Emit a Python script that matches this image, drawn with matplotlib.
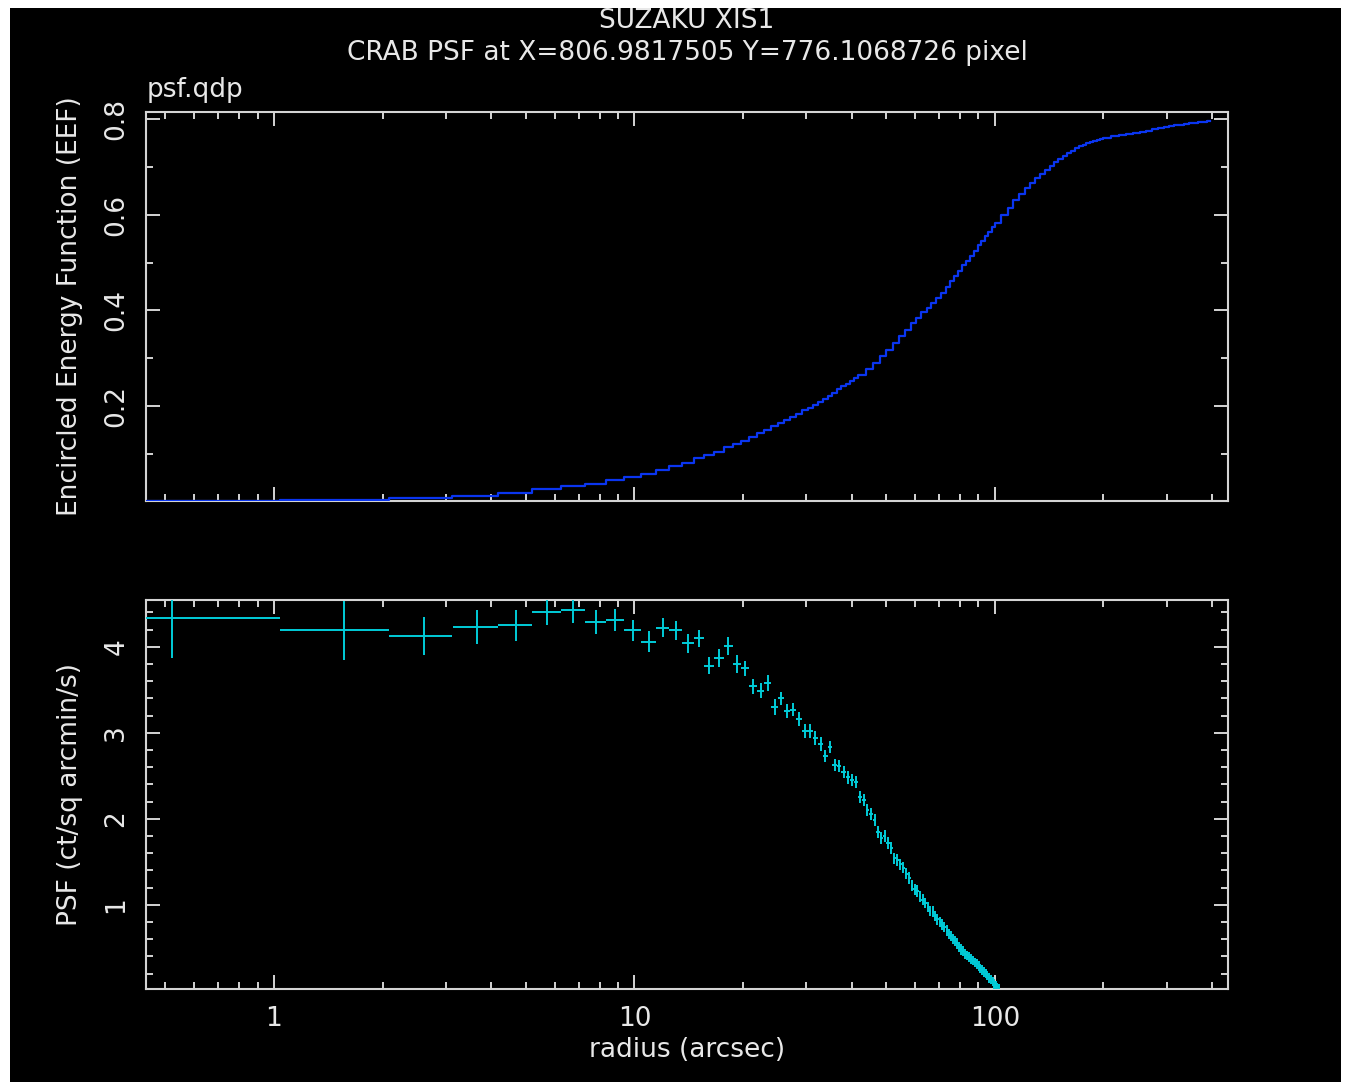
import matplotlib
matplotlib.use("Agg")
import matplotlib.pyplot as plt
import matplotlib.ticker as mticker
from matplotlib.patches import Rectangle
import numpy as np

# ---- data ----
# PSF: bin centres (arcsec), value, error, half bin width
psf_r = [0.52, 1.56, 2.60, 3.65, 4.69, 5.73, 6.77, 7.81, 8.85, 9.90,
         10.94, 11.98, 13.02, 14.06, 15.10, 16.14, 17.19, 18.23, 19.27, 20.31,
         21.35, 22.39, 23.44, 24.48, 25.52, 26.56, 27.60, 28.64, 29.69, 30.73,
         31.77, 32.81, 33.85, 34.89, 35.94, 36.98, 38.02, 39.06, 40.10, 41.14,
         42.19, 43.23, 44.27, 45.31, 46.35, 47.39, 48.44, 49.48, 50.52, 51.56,
         52.60, 53.64, 54.69, 55.73, 56.77, 57.81, 58.85, 59.89, 60.94, 61.98,
         63.02, 64.06, 65.10, 66.14, 67.19, 68.23, 69.27, 70.31, 71.35, 72.39,
         73.44, 74.48, 75.52, 76.56, 77.60, 78.64, 79.69, 80.73, 81.77, 82.81,
         83.85, 84.89, 85.94, 86.98, 88.02, 89.06, 90.10, 91.14, 92.19, 93.23,
         94.27, 95.31, 96.35, 97.39, 98.44, 99.48, 100.52, 101.56, 102.60]
psf_val = [4.33, 4.19, 4.13, 4.23, 4.25, 4.41, 4.43, 4.29, 4.31, 4.19,
           4.06, 4.22, 4.19, 4.04, 4.10, 3.78, 3.87, 4.01, 3.80, 3.75,
           3.54, 3.49, 3.58, 3.30, 3.40, 3.25, 3.27, 3.16, 3.02, 3.02,
           2.94, 2.87, 2.73, 2.84, 2.62, 2.61, 2.54, 2.48, 2.45, 2.43,
           2.25, 2.22, 2.10, 2.05, 1.98, 1.85, 1.78, 1.80, 1.72, 1.66,
           1.54, 1.52, 1.47, 1.43, 1.36, 1.31, 1.22, 1.18, 1.16, 1.10,
           1.06, 1.02, 0.97, 0.93, 0.92, 0.87, 0.83, 0.80, 0.77, 0.74,
           0.70, 0.66, 0.64, 0.60, 0.58, 0.55, 0.51, 0.48, 0.46, 0.43,
           0.41, 0.39, 0.37, 0.35, 0.33, 0.31, 0.29, 0.26, 0.24, 0.22,
           0.20, 0.18, 0.15, 0.13, 0.11, 0.08, 0.06, 0.04, 0.02]
psf_err = [0.46, 0.34, 0.22, 0.20, 0.18, 0.16, 0.15, 0.14, 0.13, 0.12,
           0.12, 0.11, 0.11, 0.11, 0.10, 0.10, 0.10, 0.10, 0.10, 0.09,
           0.09, 0.09, 0.09, 0.09, 0.08, 0.08, 0.08, 0.08, 0.08, 0.08,
           0.08, 0.08, 0.07, 0.07, 0.07, 0.07, 0.07, 0.07, 0.07, 0.07,
           0.07, 0.07, 0.07, 0.07, 0.07, 0.07, 0.07, 0.07, 0.07, 0.07,
           0.065, 0.065, 0.065, 0.065, 0.065, 0.065, 0.065, 0.065, 0.065, 0.065,
           0.06, 0.06, 0.06, 0.06, 0.06, 0.06, 0.06, 0.06, 0.06, 0.06,
           0.06, 0.06, 0.06, 0.06, 0.06, 0.06, 0.06, 0.06, 0.06, 0.06,
           0.055, 0.055, 0.055, 0.055, 0.055, 0.055, 0.055, 0.055, 0.055, 0.055,
           0.055, 0.055, 0.055, 0.055, 0.055, 0.055, 0.055, 0.055, 0.055]
psf_halfwidth = 0.52

# EEF: left edge of each step (arcsec) and the step value
eef_r = [0.00, 1.04, 2.08, 3.12, 4.17, 5.21, 6.25, 7.29, 8.33, 9.37,
         10.42, 11.46, 12.50, 13.54, 14.58, 15.62, 16.67, 17.71, 18.75, 19.79,
         20.83, 21.87, 22.92, 23.96, 25.00, 26.04, 27.08, 28.12, 29.16, 30.21,
         31.25, 32.29, 33.33, 34.37, 35.41, 36.46, 37.50, 38.54, 39.58, 40.62,
         41.66, 43.75, 45.83, 47.91, 50.00, 52.08, 54.16, 56.25, 58.33, 60.41,
         62.50, 64.58, 66.66, 68.75, 70.83, 72.91, 75.00, 77.08, 79.16, 81.25,
         83.33, 85.41, 87.50, 89.58, 91.66, 93.75, 95.83, 97.91,
         100.00, 104.16, 108.33, 112.49, 116.66, 120.83, 124.99, 129.16, 133.33,
         137.49, 141.66, 145.83, 149.99, 154.16, 158.33, 162.49, 166.66, 170.82,
         174.99, 179.16, 183.32, 187.49, 191.66, 195.82,
         199.99, 210.4, 220.8, 231.2, 241.6, 252.1, 262.5, 272.9, 283.3, 293.7,
         304.1, 314.6, 325.0, 335.4, 345.8, 356.2, 366.6, 377.1, 387.5, 395.0]
eef_val = [0.001, 0.004, 0.008, 0.012, 0.018, 0.026, 0.032, 0.038, 0.045, 0.051,
           0.058, 0.067, 0.075, 0.082, 0.092, 0.098, 0.105, 0.115, 0.121, 0.128,
           0.135, 0.144, 0.151, 0.158, 0.165, 0.171, 0.178, 0.184, 0.191, 0.197,
           0.203, 0.209, 0.215, 0.222, 0.228, 0.235, 0.241, 0.247, 0.253, 0.259,
           0.266, 0.278, 0.291, 0.304, 0.318, 0.332, 0.346, 0.360, 0.373, 0.385,
           0.396, 0.406, 0.416, 0.426, 0.437, 0.450, 0.461, 0.472, 0.483, 0.494,
           0.504, 0.514, 0.524, 0.537, 0.546, 0.555, 0.564, 0.574,
           0.583, 0.600, 0.615, 0.630, 0.644, 0.656, 0.666, 0.676, 0.685,
           0.694, 0.702, 0.710, 0.717, 0.723, 0.729, 0.734, 0.739, 0.743,
           0.747, 0.750, 0.753, 0.755, 0.757, 0.759,
           0.761, 0.764, 0.767, 0.770, 0.772, 0.774, 0.776, 0.779, 0.781, 0.783,
           0.785, 0.787, 0.788, 0.790, 0.791, 0.792, 0.794, 0.795, 0.797, 0.797]

title1 = "SUZAKU XIS1"
title2 = "CRAB PSF at X=806.9817505 Y=776.1068726 pixel"

# ---- style ----
W, H = 1351, 1085
fg = "#e8e8e8"
frame = "#d4d4d4"
fs = 19

plt.rcParams["font.family"] = ["DejaVu Sans"]

fig = plt.figure(figsize=(W / 100, H / 100), dpi=100, facecolor="white")
fig.patches.append(Rectangle((10 / W, 3 / H), 1331 / W, 1074 / H,
                             transform=fig.transFigure, facecolor="black",
                             edgecolor="none", zorder=-10))

def px_axes(left, top, right, bottom):
    return fig.add_axes([left / W, 1 - bottom / H, (right - left) / W, (bottom - top) / H])

ax1 = px_axes(146, 112, 1228, 501)
ax2 = px_axes(146, 599.5, 1228, 989)

for ax in (ax1, ax2):
    ax.set_facecolor("black")
    ax.set_xscale("log", nonpositive="clip")
    ax.set_xlim(0.4415, 443)
    for s in ax.spines.values():
        s.set_color(frame)
        s.set_linewidth(1.5)
    ax.xaxis.set_major_locator(mticker.FixedLocator([1, 10, 100]))
    ax.xaxis.set_minor_locator(mticker.LogLocator(base=10, subs=[2, 3, 4, 5, 6, 7, 8, 9]))
    ax.xaxis.set_minor_formatter(mticker.NullFormatter())
    ax.tick_params(which="both", direction="in", top=True, right=True,
                   color=frame, width=1.4, labelcolor=fg, labelsize=fs)
    ax.tick_params(which="major", length=10)
    ax.tick_params(which="minor", length=5)
    ax.tick_params(axis="y", labelrotation=90, pad=12)
    ax.tick_params(axis="x", pad=12)

# top panel: EEF (drawn over the frame, as in the original)
ax1.step(eef_r, eef_val, where="post", color="#0a35f0", lw=1.6, zorder=3)
ax1.set_ylim(0.0015, 0.815)
ax1.yaxis.set_major_locator(mticker.FixedLocator([0.2, 0.4, 0.6, 0.8]))
ax1.yaxis.set_minor_locator(mticker.FixedLocator([0.1, 0.3, 0.5, 0.7]))
ax1.set_yticklabels(["0.2", "0.4", "0.6", "0.8"])
ax1.xaxis.set_major_formatter(mticker.NullFormatter())

# bottom panel: PSF
ax2.errorbar(psf_r, psf_val, xerr=psf_halfwidth, yerr=psf_err, fmt="none",
             ecolor="#00ccd8", elinewidth=1.4, capsize=0, zorder=3)
ax2.set_ylim(0.02, 4.55)
ax2.yaxis.set_major_locator(mticker.FixedLocator([1, 2, 3, 4]))
ax2.yaxis.set_minor_locator(mticker.MultipleLocator(0.2))
ax2.set_yticklabels(["1", "2", "3", "4"])
ax2.set_xticklabels(["1", "10", "100"])

for ax in (ax1, ax2):
    for lbl in ax.get_yticklabels():
        lbl.set_verticalalignment("center")

# texts
fig.text(687 / W, 1 - 21 / H, title1, color=fg, fontsize=fs, ha="center", va="center")
fig.text(687 / W, 1 - 53 / H, title2, color=fg, fontsize=fs, ha="center", va="center")
fig.text(147 / W, 1 - 90 / H, "psf.qdp", color=fg, fontsize=fs, ha="left", va="center")
fig.text(687 / W, 1 - 1050 / H, "radius (arcsec)", color=fg, fontsize=fs, ha="center", va="center")
fig.text(70 / W, 1 - 306 / H, "Encircled Energy Function (EEF)", color=fg, fontsize=fs,
         rotation=90, ha="center", va="center")
fig.text(70 / W, 1 - 794 / H, "PSF (ct/sq arcmin/s)", color=fg, fontsize=fs,
         rotation=90, ha="center", va="center")

fig.savefig("out.png", dpi=100, facecolor=fig.get_facecolor())
